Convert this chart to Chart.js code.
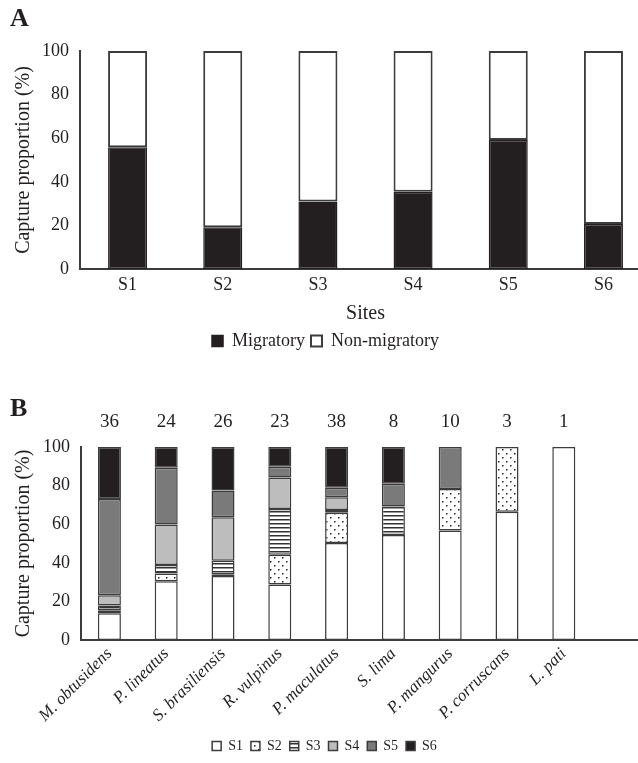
<!DOCTYPE html>
<html><head><meta charset="utf-8">
<script src="https://cdn.jsdelivr.net/npm/chart.js@4/dist/chart.umd.min.js"></script>
<style>
html,body{margin:0;padding:0;background:#fff;overflow:hidden;width:638px;height:763px;}
#wrap{position:relative;width:638px;height:763px;overflow:hidden;}
.panel{position:absolute;left:0;width:652px;}
#pa{top:0;height:360px;}
#pb{top:355px;height:408px;}
.lab{position:absolute;font-family:"Liberation Serif",serif;font-weight:bold;font-size:26px;line-height:1;color:#231f20;}
</style></head>
<body><div id="wrap">
<div class="panel" id="pa"><canvas id="ca"></canvas></div>
<div class="panel" id="pb"><canvas id="cb"></canvas></div>
<div class="lab" style="left:10px;top:5px">A</div>
<div class="lab" style="left:10px;top:395px">B</div>
</div>
<script>
// ---- Panel A data ----
const sites = ['S1', 'S2', 'S3', 'S4', 'S5', 'S6'];
const migratory = [55.8, 19.2, 31.0, 35.4, 59.2, 20.6];
const nonMigratory = [44.2, 80.8, 69.0, 64.6, 40.8, 79.4];

// ---- Panel B data ----
const species = ['M. obtusidens', 'P. lineatus', 'S. brasiliensis', 'R. vulpinus', 'P. maculatus', 'S. lima', 'P. mangurus', 'P. corruscans', 'L. pati'];
const counts = [36, 24, 26, 23, 38, 8, 10, 3, 1];
const s1 = [13.9, 30.5, 33.1, 28.8, 50.3, 54.4, 56.8, 66.4, 100];
const s2 = [1.5, 4.0, 1.0, 15.4, 15.6, 0, 21.5, 33.6, 0];
const s3 = [2.5, 4.3, 7.0, 23.7, 1.5, 14.8, 0, 0, 0];
const s4 = [5.3, 21.0, 22.5, 16.3, 6.6, 0, 0, 0, 0];
const s5 = [49.9, 29.5, 13.9, 5.6, 4.9, 11.7, 21.7, 0, 0];
const s6 = [26.9, 10.7, 22.5, 10.2, 21.1, 19.1, 0, 0, 0];
const yTicks = [0, 20, 40, 60, 80, 100];

const INK = '#231f20';
const EDGE = '#3c3c3c';
Chart.defaults.font.family = '"Liberation Serif", serif';
Chart.defaults.color = INK;
Chart.defaults.animation = false;

function dotPattern() {
  const c = document.createElement('canvas'); c.width = 8; c.height = 8;
  const x = c.getContext('2d');
  x.fillStyle = '#fff'; x.fillRect(0, 0, 8, 8);
  x.fillStyle = '#222'; x.fillRect(2, 2, 1.5, 1.5); x.fillRect(6, 6, 1.5, 1.5);
  return x.createPattern(c, 'repeat');
}
function stripePattern() {
  const c = document.createElement('canvas'); c.width = 4; c.height = 4;
  const x = c.getContext('2d');
  x.fillStyle = '#fff'; x.fillRect(0, 0, 4, 4);
  x.fillStyle = '#333'; x.fillRect(0, 0, 4, 1.5);
  return x.createPattern(c, 'repeat');
}

function yAxis(width) {
  return {
    stacked: true, min: 0, max: 100,
    afterBuildTicks: s => { s.ticks = yTicks.map(v => ({ value: v })); },
    afterFit: s => { s.width = width; },
    grid: { display: false, drawTicks: false },
    border: { display: true, color: EDGE, width: 2 },
    ticks: { font: { size: 18 }, color: INK, padding: 11 },
    title: { display: true, text: 'Capture proportion (%)', font: { size: 20 }, color: INK, padding: { top: 12, bottom: 0 } }
  };
}

// ---- Chart A ----
new Chart(document.getElementById('ca'), {
  type: 'bar',
  data: {
    labels: sites,
    datasets: [
      { label: 'Migratory', data: migratory, backgroundColor: INK, borderColor: INK, borderWidth: 1.5, borderSkipped: false },
      { label: 'Non-migratory', data: nonMigratory, backgroundColor: '#fff', borderColor: EDGE, borderWidth: 2, borderSkipped: false }
    ]
  },
  options: {
    responsive: true, maintainAspectRatio: false,
    layout: { padding: { top: 51, right: 1, left: 0, bottom: 0 } },
    datasets: { bar: { barPercentage: 0.41, categoryPercentage: 1 } },
    plugins: {
      tooltip: { enabled: false },
      legend: {
        position: 'bottom',
        labels: { boxWidth: 11, boxHeight: 11, font: { size: 18 }, color: INK, padding: 6 }
      }
    },
    scales: {
      x: {
        stacked: true,
        grid: { display: false, drawTicks: false },
        border: { display: true, color: EDGE, width: 2 },
        afterFit: s => { s.height = 57; },
        ticks: { font: { size: 18 }, color: INK, padding: 5 },
        title: { display: true, text: 'Sites', font: { size: 20 }, color: INK, padding: { top: 0, bottom: 0 } }
      },
      y: yAxis(80)
    }
  }
});

// ---- Chart B ----
const countLabels = {
  id: 'countLabels',
  afterDatasetsDraw(chart) {
    const { ctx, chartArea } = chart;
    const x = chart.scales.x;
    ctx.save();
    ctx.font = '19px "Liberation Serif", serif';
    ctx.fillStyle = INK; ctx.textAlign = 'center'; ctx.textBaseline = 'middle';
    counts.forEach((n, i) => ctx.fillText(String(n), x.getPixelForValue(i), chartArea.top - 25));
    ctx.restore();
  }
};

const seg = (label, data, bg) => ({ label, data, backgroundColor: bg, borderColor: EDGE, borderWidth: 1.5, borderSkipped: false });

new Chart(document.getElementById('cb'), {
  type: 'bar',
  data: {
    labels: species.concat(['']),
    datasets: [
      seg('S1', s1, '#ffffff'),
      seg('S2', s2, dotPattern()),
      seg('S3', s3, stripePattern()),
      seg('S4', s4, '#bdbdbd'),
      seg('S5', s5, '#7a7a7a'),
      seg('S6', s6, INK)
    ]
  },
  plugins: [countLabels],
  options: {
    responsive: true, maintainAspectRatio: false,
    layout: { padding: { top: 92, right: 3, left: 0, bottom: 0 } },
    datasets: { bar: { barPercentage: 0.405, categoryPercentage: 1 } },
    plugins: {
      tooltip: { enabled: false },
      legend: {
        position: 'bottom',
        labels: { boxWidth: 9, boxHeight: 9, font: { size: 14 }, color: INK, padding: 8 }
      }
    },
    scales: {
      x: {
        stacked: true,
        grid: { display: false, drawTicks: false },
        border: { display: true, color: EDGE, width: 2 },
        afterFit: s => { s.height = 91; },
        ticks: { autoSkip: false, minRotation: 45, maxRotation: 45, font: { size: 17, style: 'italic' }, color: INK, padding: 4 }
      },
      y: yAxis(81)
    }
  }
});
</script>
</body></html>
